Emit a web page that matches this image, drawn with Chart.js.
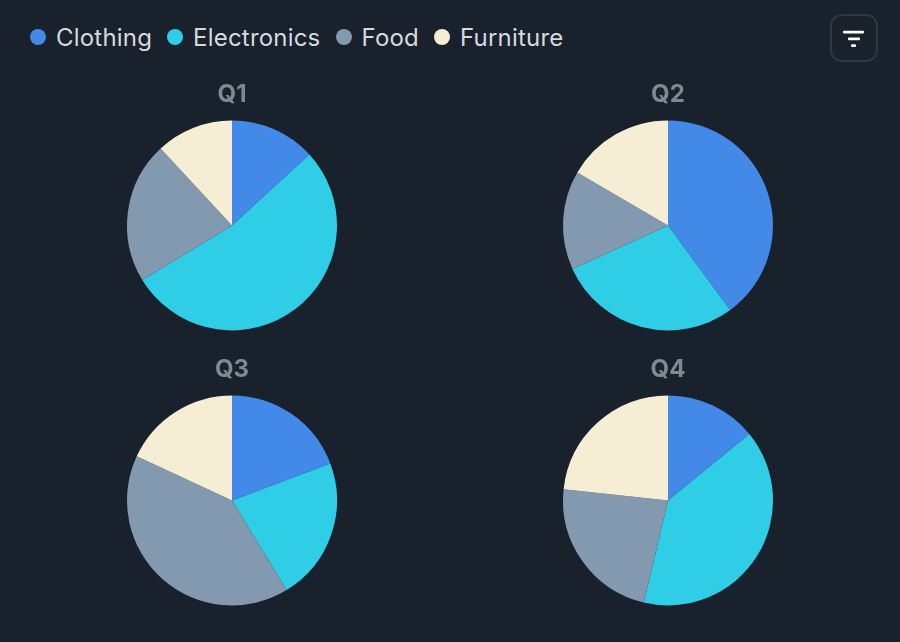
<!DOCTYPE html>
<html><head><meta charset="utf-8">
<script src="https://cdn.jsdelivr.net/npm/chart.js@4/dist/chart.umd.min.js"></script>
<style>
html,body{margin:0;padding:0;background:#19212c;width:900px;height:642px;overflow:hidden;font-family:Inter,sans-serif}
#legend{position:absolute;left:30px;top:21px;height:32px;display:flex;align-items:center;font-size:24px;letter-spacing:0.2px;color:#d5d9df}
.item{display:flex;align-items:center;margin-right:15px}
.dot{width:16px;height:16px;border-radius:50%;margin-right:10px}
#btn{position:absolute;left:830px;top:14px;width:44px;height:44px;border:2px solid #303743;border-radius:12px}
#btn svg{position:absolute;left:0;top:0}
.c{position:absolute;width:436px;height:263px}
</style></head><body>
<div id="legend"></div>
<div id="btn"><svg width="44" height="44"><g fill="#fff"><rect x="11" y="14.8" width="21" height="2.6" rx="1"/><rect x="16" y="21.6" width="12" height="2.6" rx="1"/><rect x="19" y="28.2" width="5" height="2.8" rx="1"/></g></svg></div>
<div class="c" style="left:14px;top:79px"><canvas id="c0"></canvas></div>
<div class="c" style="left:450px;top:79px"><canvas id="c1"></canvas></div>
<div class="c" style="left:14px;top:354px"><canvas id="c2"></canvas></div>
<div class="c" style="left:450px;top:354px"><canvas id="c3"></canvas></div>
<script>
const categories=["Clothing","Electronics","Food","Furniture"];
const colors=["#4389e8","#30cde6","#8299af","#f6edd5"];
const quarters=["Q1","Q2","Q3","Q4"];
const q1=[13.2,53.1,21.8,11.9];
const q2=[39.9,28.3,15.2,16.6];
const q3=[19.3,22.0,40.6,18.1];
const q4=[14.1,39.6,23.0,23.3];
const series=[q1,q2,q3,q4];
const lg=document.getElementById('legend');
categories.forEach((n,i)=>{const d=document.createElement('div');d.className='item';
 d.innerHTML='<span class="dot" style="background:'+colors[i]+'"></span><span>'+n+'</span>';lg.appendChild(d);});
series.forEach((vals,i)=>{
 new Chart(document.getElementById('c'+i),{type:'pie',
  data:{labels:categories,datasets:[{data:vals,backgroundColor:colors,borderWidth:0}]},
  options:{responsive:true,maintainAspectRatio:false,animation:false,radius:105,
   layout:{padding:0},
   plugins:{legend:{display:false},tooltip:{enabled:false},
    title:{display:true,text:quarters[i],color:'#808890',font:{family:'Inter',size:24,weight:'bold'},padding:{top:1,bottom:0}}}}});
});
</script>
</body></html>
